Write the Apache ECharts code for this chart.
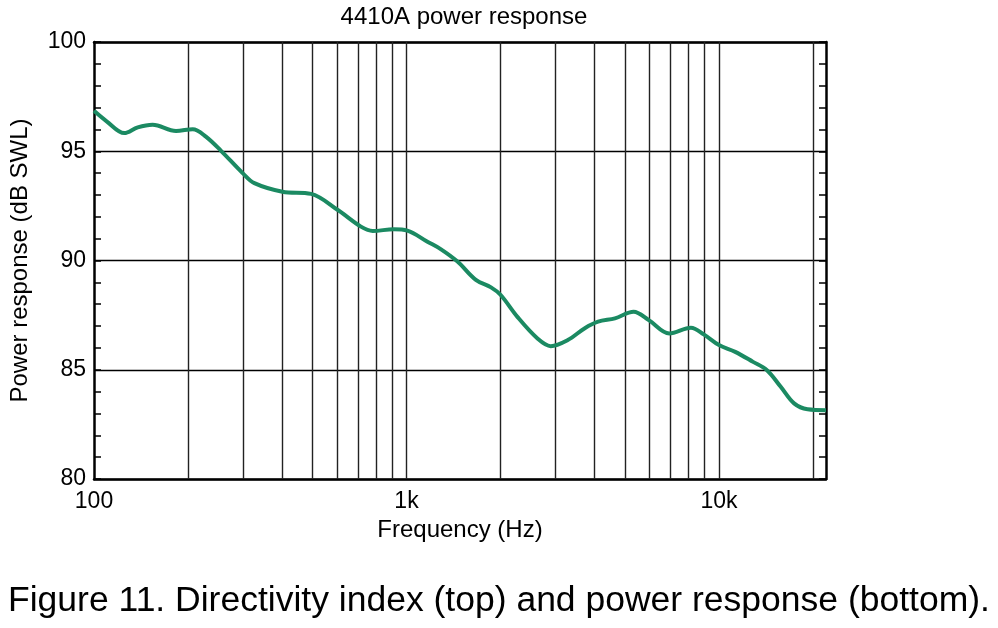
<!DOCTYPE html>
<html>
<head>
<meta charset="utf-8">
<script src="https://cdn.jsdelivr.net/npm/echarts@6/dist/echarts.min.js"></script>
<style>html,body{margin:0;padding:0;background:#fff}#c{width:998px;height:628px}</style>
</head>
<body>
<div id="c"></div>
<script>
const freqs = [100,110,125,138,154,183,207,228,255,299,326,401,495,603,715,780,910,1006,1167,1290,1456,1667,1864,2002,2264,2625,2895,3283,3710,4103,4645,5330,5960,6935,8130,8935,10000,11270,12850,14240,15760,17390,19210,22000];
const power = [96.85,96.36,95.83,96.09,96.21,95.93,96.01,95.67,95.02,94.0,93.54,93.15,93.05,92.31,91.55,91.35,91.43,91.37,90.86,90.51,89.95,89.11,88.77,88.42,87.42,86.43,86.08,86.36,86.89,87.2,87.35,87.65,87.27,86.66,86.92,86.62,86.13,85.82,85.36,84.98,84.22,83.46,83.19,83.15];
const gridFreqs = [200,300,400,500,600,700,800,900,1000,2000,3000,4000,5000,6000,7000,8000,9000,10000,20000];
const xTickLabels = {100:'100',1000:'1k',10000:'10k'};
const title = '4410A power response';
const caption = 'Figure 11. Directivity index (top) and power response (bottom).';

const FONT = 'Liberation Sans, Arial, sans-serif';
const chart = echarts.init(document.getElementById('c'), null, {renderer:'canvas'});
chart.setOption({
  animation:false,
  backgroundColor:'#fff',
  title:[{text:title,left:459,top:0,textAlign:'center',textStyle:{fontFamily:FONT,fontSize:24,fontWeight:'normal',color:'#000'}}],
  graphic:[{type:'text',left:'center',top:583,style:{text:caption,font:'35.5px '+FONT,fill:'#000'}}],
  grid:{left:93,top:42,right:172,bottom:149,containLabel:false},
  xAxis:[{type:'log',logBase:10,min:100,max:22000,position:'bottom',
    name:'Frequency (Hz)',nameLocation:'middle',nameGap:38,
    nameTextStyle:{fontFamily:FONT,fontSize:24,color:'#000'},
    axisLine:{lineStyle:{color:'#000',width:2.5}},
    axisTick:{show:false},splitLine:{show:false},
    axisLabel:{fontFamily:FONT,fontSize:23,color:'#000',margin:11,
      formatter:v=>xTickLabels[Math.round(v)]||''}},
   {type:'log',logBase:10,min:100,max:22000,position:'top',
    axisLine:{lineStyle:{color:'#000',width:2.5}},axisTick:{show:false},axisLabel:{show:false},splitLine:{show:false}}],
  yAxis:[{type:'value',min:80,max:100,interval:5,position:'left',
    name:'Power response (dB SWL)',nameLocation:'middle',nameGap:62,
    nameTextStyle:{fontFamily:FONT,fontSize:24,color:'#000'},
    axisLine:{show:true,lineStyle:{color:'#000',width:2.5}},
    axisTick:{show:true,inside:true,length:7,lineStyle:{color:'#000',width:1.5}},
    minorTick:{show:true,splitNumber:5,length:7,lineStyle:{color:'#000',width:1.5}},
    splitLine:{show:true,lineStyle:{color:'#000',width:1.4}},
    axisLabel:{fontFamily:FONT,fontSize:23,color:'#000',margin:8}},
   {type:'value',min:80,max:100,interval:5,position:'right',
    axisLine:{show:true,lineStyle:{color:'#000',width:2.5}},
    axisTick:{show:true,inside:true,length:7,lineStyle:{color:'#000',width:1.5}},
    minorTick:{show:true,splitNumber:5,length:7,lineStyle:{color:'#000',width:1.5}},
    splitLine:{show:false},axisLabel:{show:false}}],
  series:[{type:'line',xAxisIndex:0,yAxisIndex:0,
    data:freqs.map((f,i)=>[f,power[i]]),
    smooth:0.35,showSymbol:false,symbol:'none',
    lineStyle:{color:'#1b8a62',width:4},
    z:5,
    markLine:{silent:true,symbol:['none','none'],label:{show:false},
      lineStyle:{color:'#222',width:1.4,type:'solid'},
      data:gridFreqs.map(f=>({xAxis:f}))},
  }]
});
</script>
</body>
</html>
